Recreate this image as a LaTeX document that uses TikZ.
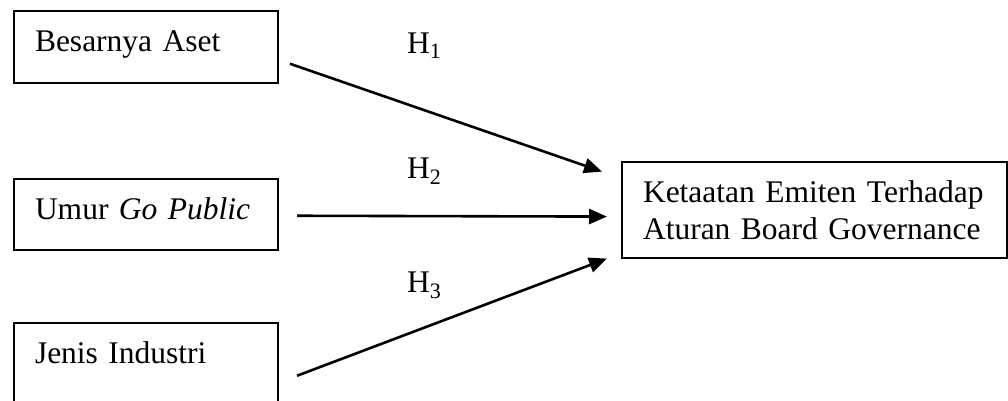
\documentclass[tikz,border=0pt]{standalone}
\usepackage{fontspec}
\setmainfont{Liberation Serif}
\usetikzlibrary{calc,arrows.meta}
\begin{document}
\begin{tikzpicture}[x=1pt,y=-1pt,
  every node/.style={font=\fontsize{31.5}{37}\selectfont},
  varbox/.style={draw,line width=2pt,anchor=north west,inner xsep=21pt,inner ysep=18.5pt,
    text width=222pt,align=left,text height=21.5pt},
  depbox/.style={draw,line width=2pt,anchor=north west,inner xsep=21pt,inner ysep=18.5pt,
    text width=343pt,align=left},
  hyp/.style={anchor=base west,inner sep=0pt},
  link/.style={line width=2.6pt,-{Triangle[length=18pt,width=15pt]}}]
\useasboundingbox (0,0) rectangle (1008,400);
\clip (0,0) rectangle (1008,400);
\node[varbox,text depth=13pt] (b1) at (13,10) {Besarnya Aset};
\node[varbox,text depth=12pt] (b2) at (13,178) {Umur \textit{Go Public}};
\node[varbox,text depth=34pt] (b3) at (13,322) {Jenis Industri};
\node[depbox] (b4) at (621,161) {Ketaatan Emiten Terhadap\\Aturan Board Governance};
\node[hyp] (h1) at (407,53) {H\textsubscript{1}};
\node[hyp] (h2) at (407,178) {H\textsubscript{2}};
\node[hyp] (h3) at (407,292) {H\textsubscript{3}};
\draw[link] ($(b1.east)+(11,17)$) -- ($(b4.west)+(-19,-38.5)$);
\draw[link] ($(b2.east)+(18,1.5)$) -- ($(b4.west)+(-14,6.5)$);
\draw[link] ($(b3.east)+(18,6.5)$) -- ($(b4.west)+(-14,48.5)$);
\end{tikzpicture}
\end{document}
